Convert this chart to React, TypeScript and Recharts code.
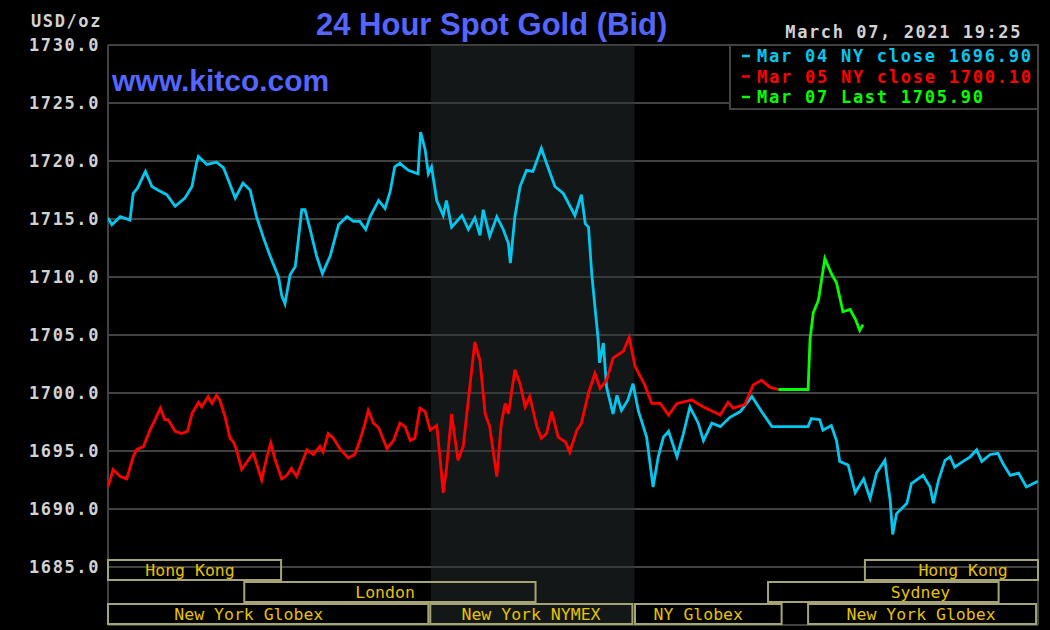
import React from "react";
import {
  LineChart,
  Line,
  XAxis,
  YAxis,
  CartesianGrid,
  ReferenceArea,
} from "recharts";

// ---- time axis (minutes over the 24 hour window) ----
const hourTicks = [0, 120, 240, 360, 480, 600, 720, 840, 960, 1080, 1200, 1320, 1440];
const valueTicks = [1680, 1685, 1690, 1695, 1700, 1705, 1710, 1715, 1720, 1725, 1730];

// ---- Mar 04 NY close (cyan) ----
const blueTimes = [
  0, 6, 19, 34, 39, 46, 58, 68, 77, 91, 104, 119, 130, 137, 140, 153, 168, 179, 186, 197,
  209, 220, 230, 240, 251, 264, 269, 274, 282, 290, 300, 305, 313, 323, 332, 344, 357, 370,
  380, 390, 399, 406, 419, 429, 437, 444, 452, 465, 480, 484, 491, 496, 501, 509, 519, 524,
  532, 548, 558, 568, 576, 581, 591, 602, 612, 620, 623, 630, 638, 648, 658, 671, 679, 692,
  705, 723, 733, 739, 744, 749, 754, 759, 761, 767, 772, 782, 788, 795, 805, 813, 821, 834,
  844, 852, 860, 868, 881, 891, 901, 914, 922, 935, 948, 963, 979, 997, 1012, 1028, 1084,
  1089, 1102, 1107, 1120, 1128, 1133, 1146, 1157, 1170, 1180, 1190, 1203, 1206, 1211, 1215,
  1221, 1237, 1244, 1262, 1273, 1278, 1286, 1296, 1304, 1311, 1324, 1335, 1345, 1353, 1366,
  1378, 1386, 1397, 1410, 1422, 1440,
];
const blueValues = [
  1715.1, 1714.5, 1715.2, 1714.9, 1717.2, 1717.7, 1719.1, 1717.8, 1717.5, 1717.1, 1716.1,
  1716.8, 1717.8, 1719.8, 1720.4, 1719.7, 1719.9, 1719.4, 1718.4, 1716.8, 1718.1, 1717.5,
  1715.2, 1713.5, 1711.8, 1710.0, 1708.4, 1707.7, 1710.2, 1710.9, 1715.8, 1715.8, 1714.1,
  1711.8, 1710.3, 1711.8, 1714.5, 1715.2, 1714.8, 1714.8, 1714.1, 1715.2, 1716.6, 1715.9,
  1717.4, 1719.5, 1719.8, 1719.2, 1718.9, 1722.5, 1721.0, 1718.9, 1719.5, 1716.6, 1715.3,
  1716.6, 1714.3, 1715.3, 1714.1, 1715.1, 1713.6, 1715.8, 1713.5, 1715.2, 1714.1, 1712.9,
  1711.2, 1715.2, 1717.8, 1719.2, 1719.1, 1721.1, 1719.8, 1717.8, 1717.2, 1715.3, 1717.1,
  1714.6, 1714.3, 1710.3, 1707.4, 1704.6, 1702.6, 1704.3, 1700.5, 1698.2, 1699.8, 1698.5,
  1699.4, 1700.8, 1698.5, 1696.2, 1691.9, 1694.5, 1696.2, 1696.7, 1694.5, 1696.5, 1698.8,
  1697.4, 1695.9, 1697.4, 1697.1, 1697.9, 1698.4, 1699.7, 1698.4, 1697.1, 1697.1, 1697.8,
  1697.7, 1696.8, 1697.2, 1695.9, 1694.1, 1693.8, 1691.4, 1692.6, 1690.9, 1693.1, 1694.2,
  1692.8, 1690.8, 1687.8, 1689.6, 1690.5, 1692.2, 1692.9, 1691.9, 1690.5, 1692.5, 1694.2,
  1694.5, 1693.6, 1694.1, 1694.5, 1695.1, 1694.1, 1694.7, 1694.8, 1693.9, 1692.9, 1693.1,
  1691.9, 1692.4,
];

// ---- Mar 05 NY close (red) ----
const redTimes = [
  0, 8, 19, 29, 39, 44, 55, 65, 73, 81, 88, 93, 104, 114, 123, 130, 140, 145, 155, 161, 168,
  173, 181, 189, 194, 199, 207, 217, 225, 238, 246, 252, 259, 269, 277, 284, 292, 308, 318,
  328, 333, 341, 349, 359, 372, 382, 390, 398, 403, 411, 419, 432, 442, 452, 460, 468, 475,
  483, 491, 499, 509, 514, 519, 524, 532, 537, 542, 550, 558, 568, 576, 584, 591, 602, 609,
  615, 620, 630, 638, 646, 653, 664, 671, 679, 687, 697, 708, 715, 726, 733, 744, 754, 762,
  772, 782, 798, 807, 816, 831, 842, 855, 868, 881, 904, 922, 948, 960, 968, 986, 999, 1012,
  1025, 1038,
];
const redValues = [
  1691.9, 1693.4, 1692.8, 1692.6, 1694.5, 1695.1, 1695.4, 1696.8, 1697.7, 1698.7, 1697.7,
  1697.7, 1696.7, 1696.5, 1696.7, 1698.2, 1699.2, 1698.8, 1699.7, 1699.1, 1699.8, 1699.4,
  1698.0, 1696.1, 1695.8, 1695.1, 1693.4, 1694.2, 1694.8, 1692.5, 1694.5, 1695.7, 1694.2,
  1692.6, 1692.9, 1693.5, 1692.8, 1695.1, 1694.7, 1695.4, 1694.9, 1696.5, 1696.1, 1695.2,
  1694.4, 1694.7, 1695.9, 1697.4, 1698.5, 1697.4, 1697.0, 1695.2, 1695.9, 1697.4, 1697.1,
  1695.9, 1696.1, 1698.7, 1698.4, 1696.8, 1697.2, 1694.5, 1691.4, 1693.4, 1698.2, 1696.2,
  1694.2, 1695.4, 1699.4, 1704.4, 1702.8, 1698.2, 1697.1, 1692.8, 1697.4, 1699.1, 1698.2,
  1702.0, 1700.8, 1698.8, 1699.7, 1697.1, 1696.1, 1696.5, 1698.4, 1696.2, 1695.8, 1694.9,
  1696.8, 1697.4, 1700.0, 1701.7, 1700.4, 1701.1, 1703.0, 1703.6, 1704.8, 1702.3, 1700.7,
  1699.1, 1699.1, 1698.1, 1699.1, 1699.4, 1698.8, 1698.1, 1699.2, 1698.7, 1699.0, 1700.7,
  1701.1, 1700.5, 1700.3,
];

// ---- Mar 07 Last (green) ----
const greenTimes = [1038, 1084, 1087, 1092, 1100, 1110, 1120, 1128, 1138, 1149, 1157, 1164, 1169];
const greenValues = [
  1700.3, 1700.3, 1704.6, 1706.9, 1708.0, 1711.6, 1710.3, 1709.5, 1707.0, 1707.2, 1706.4,
  1705.4, 1705.9,
];

// ---- legend ----
const legendLabels = [
  "Mar 04 NY close 1696.90",
  "Mar 05 NY close 1700.10",
  "Mar 07 Last 1705.90",
];
const seriesColors = ["#00c8f0", "#ff0000", "#00ff00"];

// ---- shaded NYMEX window (minutes) ----
const shadeStart = 500;
const shadeEnd = 815;

// ---- trading sessions ----
const sessionNames = [
  "Hong Kong",
  "London",
  "New York Globex",
  "New York NYMEX",
  "NY Globex",
  "Hong Kong",
  "Sydney",
  "New York Globex",
];
const sessionStart = [0, 211, 0, 499, 816, 1172, 1022, 1084];
const sessionEnd = [268, 662, 496, 812, 1043, 1440, 1379, 1437];
const sessionRow = [0, 1, 2, 2, 2, 0, 1, 2];
const sessionLabelAt = [127, 429, 218, 655, 914, 1324, 1258, 1259];
const rowTop = [1685.6, 1683.71, 1681.81];
const rowBottom = [1683.88, 1681.98, 1680.09];

const makeSeries = (times: number[], values: number[]) =>
  times.map((t, i) => ({ t, v: values[i] }));

const blueData = makeSeries(blueTimes, blueValues);
const redData = makeSeries(redTimes, redValues);
const greenData = makeSeries(greenTimes, greenValues);

const MONO = "'DejaVu Sans Mono', 'Liberation Mono', monospace";
const SANS = "'Liberation Sans', Arial, sans-serif";

const sessionLabel = (name: string, at: number, x1: number, x2: number) => (props: any) => {
  const vb = props.viewBox || {};
  const cx = vb.x + ((at - x1) / (x2 - x1)) * vb.width;
  const cy = vb.y + vb.height / 2;
  return (
    <text
      x={cx}
      y={cy}
      dy="0.36em"
      textAnchor="middle"
      fill="#e6c200"
      fontFamily={MONO}
      fontSize={16.5}
    >
      {name}
    </text>
  );
};

export default function App() {
  return (
    <div
      style={{
        position: "absolute",
        left: 0,
        top: 0,
        width: 1050,
        height: 630,
        background: "#000",
        overflow: "hidden",
      }}
    >
      <LineChart
        width={1050}
        height={630}
        margin={{ top: 45, right: 12, bottom: 5, left: 8 }}
      >
        <CartesianGrid stroke="#424242" strokeWidth={2} />
        <ReferenceArea
          x1={shadeStart}
          x2={shadeEnd}
          y1={1680}
          y2={1730}
          fill="#2c3232"
          fillOpacity={0.46}
          stroke="none"
        />
        <XAxis
          dataKey="t"
          type="number"
          domain={[0, 1440]}
          ticks={hourTicks}
          height={0}
          tick={false}
          axisLine={false}
          tickLine={false}
          allowDataOverflow
        />
        <YAxis
          type="number"
          domain={[1680, 1730]}
          ticks={valueTicks}
          width={100}
          axisLine={false}
          tickLine={false}
          allowDataOverflow
          tickFormatter={(v: number) => v.toFixed(1)}
          tick={{
            fill: "#d2d2d2",
            fontFamily: MONO,
            fontSize: 17,
            fontWeight: "bold",
            letterSpacing: 1.6,
          }}
        />
        {sessionNames.map((name, i) => (
          <ReferenceArea
            key={"s" + i}
            x1={sessionStart[i]}
            x2={sessionEnd[i]}
            y1={rowBottom[sessionRow[i]]}
            y2={rowTop[sessionRow[i]]}
            fill="none"
            fillOpacity={0}
            stroke="#a4a474"
            strokeWidth={2}
            label={sessionLabel(name, sessionLabelAt[i], sessionStart[i], sessionEnd[i])}
          />
        ))}
        <Line
          data={blueData}
          dataKey="v"
          type="linear"
          stroke={seriesColors[0]}
          strokeWidth={2.8}
          dot={false}
          isAnimationActive={false}
        />
        <Line
          data={redData}
          dataKey="v"
          type="linear"
          stroke={seriesColors[1]}
          strokeWidth={2.8}
          dot={false}
          isAnimationActive={false}
        />
        <Line
          data={greenData}
          dataKey="v"
          type="linear"
          stroke={seriesColors[2]}
          strokeWidth={2.8}
          dot={false}
          isAnimationActive={false}
        />
      </LineChart>
      <svg
        width={1050}
        height={630}
        style={{ position: "absolute", left: 0, top: 0, pointerEvents: "none" }}
      >
        <text x={316} y={35} fill="#5566ff" fontFamily={SANS} fontWeight="bold" fontSize={31}>
          24 Hour Spot Gold (Bid)
        </text>
        <text x={112} y={91} fill="#5566ff" fontFamily={SANS} fontWeight="bold" fontSize={30}>
          www.kitco.com
        </text>
        <text
          x={31}
          y={27}
          fill="#d2d2d2"
          fontFamily={MONO}
          fontWeight="bold"
          fontSize={17}
          style={{ letterSpacing: 1.6 }}
        >
          USD/oz
        </text>
        <text
          x={1022}
          y={38}
          textAnchor="end"
          fill="#d2d2d2"
          fontFamily={MONO}
          fontWeight="bold"
          fontSize={17}
          style={{ letterSpacing: 1.6 }}
        >
          March 07, 2021 19:25
        </text>
        <rect x={730} y={45} width={308} height={64} fill="#000" stroke="#424242" strokeWidth={2} />
        {legendLabels.map((label, i) => (
          <g key={"l" + i}>
            <line
              x1={742}
              x2={750}
              y1={56 + i * 20.5}
              y2={56 + i * 20.5}
              stroke={seriesColors[i]}
              strokeWidth={2.5}
            />
            <text
              x={757}
              y={62 + i * 20.5}
              fill={seriesColors[i]}
              fontFamily={MONO}
              fontWeight="bold"
              fontSize={17}
              style={{ letterSpacing: 1.75 }}
            >
              {label}
            </text>
          </g>
        ))}
      </svg>
    </div>
  );
}
